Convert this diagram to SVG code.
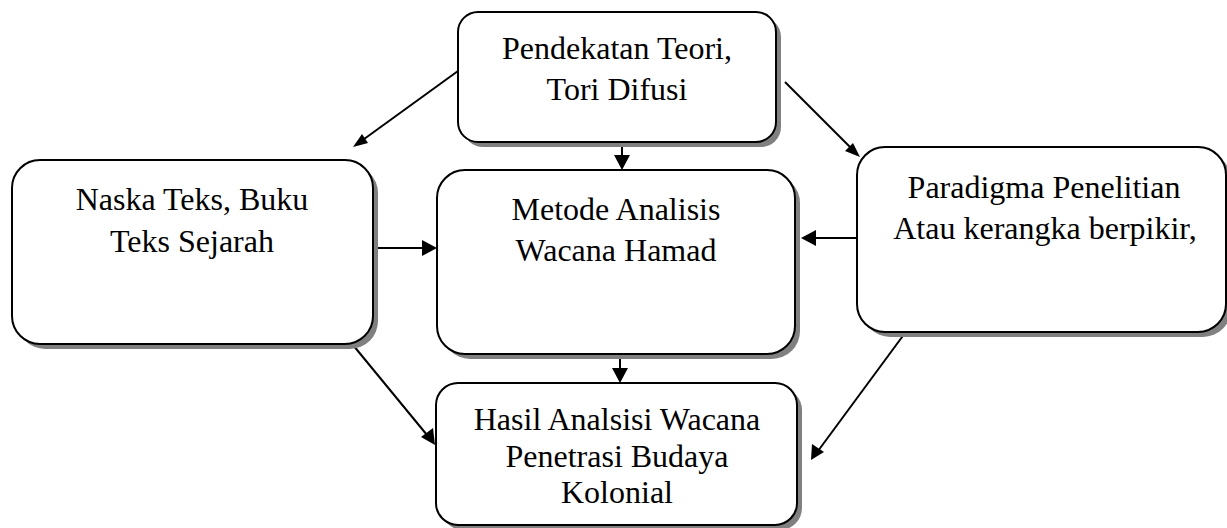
<svg xmlns="http://www.w3.org/2000/svg" width="1227" height="528" viewBox="0 0 1227 528">
<style>
.box{fill:#fff;stroke:#000;stroke-width:2}
.sh{fill:#808080}
.t{font-size:32px;fill:#000;text-anchor:middle}
.ln{stroke:#000;stroke-width:2}
</style>
<rect width="1227" height="528" fill="#fff"/>
<g id="connectors">
<line class="ln" x1="458" y1="71" x2="360" y2="142"/>
<path d="M353,147 L362,134 L368,143 z" fill="#000"/>
<line class="ln" x1="785" y1="82" x2="852" y2="149"/>
<path d="M860,157 L845,151 L853,143 z" fill="#000"/>
<line class="ln" x1="622" y1="142" x2="622" y2="156"/>
<path d="M622,170 L614,155 L630,155 z" fill="#000"/>
<line class="ln" x1="373" y1="248" x2="423" y2="248"/>
<path d="M437,248 L422,240 L422,256 z" fill="#000"/>
<line class="ln" x1="857" y1="238" x2="815" y2="238"/>
<path d="M801,238 L816,230 L816,246 z" fill="#000"/>
<line class="ln" x1="620" y1="354" x2="620" y2="370"/>
<path d="M620,383 L612,368 L628,368 z" fill="#000"/>
<line class="ln" x1="353" y1="345" x2="427" y2="435"/>
<path d="M435,445 L421,437 L433,428 z" fill="#000"/>
<line class="ln" x1="905" y1="333" x2="818" y2="451"/>
<path d="M811,460 L812,444 L824,452 z" fill="#000"/>
</g>
<g id="node-top">
<rect class="sh" x="463" y="17" width="318" height="130" rx="20"/>
<rect class="box" x="458" y="12" width="318" height="130" rx="20"/>
<text class="t" font-family="Liberation Serif, Times New Roman, DejaVu Serif, serif" x="617" y="59">Pendekatan Teori,</text>
<text class="t" font-family="Liberation Serif, Times New Roman, DejaVu Serif, serif" x="617" y="100">Tori Difusi</text>
</g>
<g id="node-left">
<rect class="sh" x="17" y="165" width="361" height="184" rx="28"/>
<rect class="box" x="12" y="160" width="361" height="184" rx="28"/>
<text class="t" font-family="Liberation Serif, Times New Roman, DejaVu Serif, serif" x="192" y="210">Naska Teks, Buku</text>
<text class="t" font-family="Liberation Serif, Times New Roman, DejaVu Serif, serif" x="192" y="252">Teks Sejarah</text>
</g>
<g id="node-middle">
<rect class="sh" x="442" y="175" width="358" height="184" rx="28"/>
<rect class="box" x="437" y="170" width="358" height="184" rx="28"/>
<text class="t" font-family="Liberation Serif, Times New Roman, DejaVu Serif, serif" x="616" y="220">Metode Analisis</text>
<text class="t" font-family="Liberation Serif, Times New Roman, DejaVu Serif, serif" x="616" y="261">Wacana Hamad</text>
</g>
<g id="node-right">
<rect class="sh" x="862" y="152" width="369" height="185" rx="28"/>
<rect class="box" x="857" y="147" width="369" height="185" rx="28"/>
<text class="t" font-family="Liberation Serif, Times New Roman, DejaVu Serif, serif" x="1044" y="198">Paradigma Penelitian</text>
<text class="t" font-family="Liberation Serif, Times New Roman, DejaVu Serif, serif" x="1045" y="239">Atau kerangka berpikir,</text>
</g>
<g id="node-bottom">
<rect class="sh" x="441" y="388" width="361" height="142" rx="22"/>
<rect class="box" x="436" y="383" width="361" height="142" rx="22"/>
<text class="t" font-family="Liberation Serif, Times New Roman, DejaVu Serif, serif" x="617" y="430">Hasil Analsisi Wacana</text>
<text class="t" font-family="Liberation Serif, Times New Roman, DejaVu Serif, serif" x="617" y="467">Penetrasi Budaya</text>
<text class="t" font-family="Liberation Serif, Times New Roman, DejaVu Serif, serif" x="617" y="503">Kolonial</text>
</g>
</svg>
